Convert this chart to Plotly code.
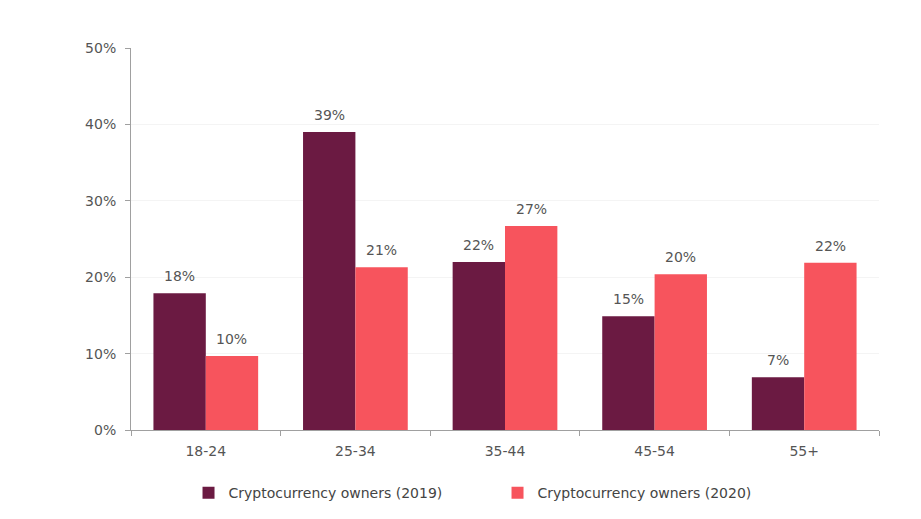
import plotly.graph_objects as go

idades = ["18-24", "25-34", "35-44", "45-54", "55+"]
donos_2019 = [17.9, 39.0, 22.0, 14.9, 6.9]
donos_2020 = [9.7, 21.3, 26.7, 20.4, 21.9]

cor_2019 = "#6B1A42"
cor_2020 = "#F7545D"
fonte = dict(family="DejaVu Sans, Verdana, sans-serif", size=14, color="#555555")
bargap = 0.30

fig = go.Figure()
fig.add_bar(x=idades, y=donos_2019, name="Cryptocurrency owners (2019)",
            marker=dict(color=cor_2019, line=dict(width=0)))
fig.add_bar(x=idades, y=donos_2020, name="Cryptocurrency owners (2020)",
            marker=dict(color=cor_2020, line=dict(width=0)))

# rotulos acima das barras
desloc = (1 - bargap) / 4
for i in range(len(idades)):
    for serie, sinal in ((donos_2019, -1), (donos_2020, 1)):
        fig.add_annotation(x=i + sinal * desloc, y=serie[i], text=f"{serie[i]:.0f}%",
                           showarrow=False, yanchor="bottom", yshift=7,
                           font=dict(size=14, color="#555555"))

fig.update_layout(
    width=921, height=519,
    margin=dict(l=123, r=50, t=40, b=97),
    barmode="group", bargap=bargap, bargroupgap=0,
    plot_bgcolor="white", paper_bgcolor="white",
    font=fonte,
    legend=dict(orientation="h", x=0.49, xanchor="center", y=-0.165, yanchor="middle",
                font=dict(size=14, color="#444444"), itemwidth=30, traceorder="normal",
                entrywidth=264),
)
fig.update_xaxes(showgrid=False, showline=True, linecolor="#A0A0A0", linewidth=1,
                 ticks="outside", tickson="boundaries", ticklen=5, tickcolor="#A0A0A0",
                 range=[-0.5, 4.5], ticklabelstandoff=8)
fig.update_yaxes(range=[0, 50], dtick=10, ticksuffix="%", showgrid=True, gridcolor="#F4F4F4",
                 showline=True, linecolor="#A0A0A0", linewidth=1, ticks="outside",
                 ticklen=5, tickcolor="#A0A0A0", zeroline=False, ticklabelstandoff=6)

fig.write_html("out.html")
